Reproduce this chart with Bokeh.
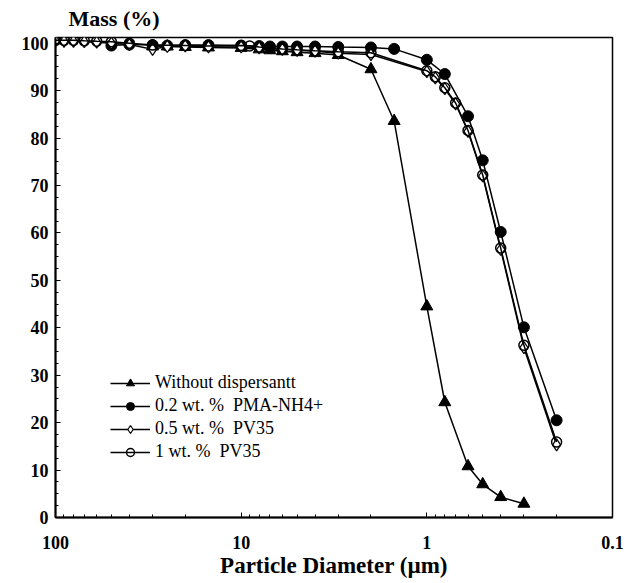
from bokeh.plotting import figure
from bokeh.models import Range1d, FixedTicker, CustomJSTickFormatter, Legend, LegendItem
from bokeh.embed import file_html
from bokeh.resources import INLINE

# ---- data ----
tri_x = [30, 25, 20, 15, 10, 8, 7, 6, 5, 4, 3, 2, 1.5, 1, 0.8, 0.6, 0.5, 0.4, 0.3]
tri_y = [99.3, 99.3, 99.2, 99.1, 99.0, 98.7, 98.5, 98.3, 98.1, 97.9, 97.5, 94.5, 83.6,
         44.5, 24.3, 10.8, 7.0, 4.3, 2.9]

pma_x = [50, 40, 30, 25, 20, 15, 10, 8, 7, 6, 5, 4, 3, 2, 1.5, 1, 0.8, 0.6, 0.5, 0.4, 0.3, 0.2]
pma_y = [99.5, 99.7, 99.6, 99.5, 99.6, 99.6, 99.5, 99.4, 99.3, 99.3, 99.3, 99.3, 99.2,
         99.1, 98.8, 96.5, 93.5, 84.6, 75.3, 60.2, 40.1, 20.5]

pv05_x = [100, 90, 80, 70, 60, 50, 40, 30, 25, 20, 15, 10, 8, 6, 5, 4, 3, 2, 1, 0.9,
          0.8, 0.7, 0.6, 0.5, 0.4, 0.3, 0.2]
pv05_y = [100.5, 100.4, 100.4, 100.3, 100.2, 100.0, 99.7, 98.7, 99.3, 99.4, 99.2, 99.2,
          99.0, 98.7, 98.5, 98.3, 97.9, 97.6, 94.0, 92.7, 90.4, 87.2, 81.4, 72.0, 56.5,
          35.8, 15.3]

pv1_x = [100, 90, 80, 70, 60, 50, 40, 30, 20, 15, 10, 9, 8, 7, 6, 5, 4, 3, 2, 1, 0.9,
         0.8, 0.7, 0.6, 0.5, 0.4, 0.3, 0.2]
pv1_y = [100.6, 100.6, 100.6, 100.5, 100.4, 100.3, 100.0, 99.6, 99.5, 99.4, 99.5, 99.4,
         99.2, 99.0, 98.8, 98.6, 98.4, 98.2, 98.0, 94.2, 92.9, 90.6, 87.4, 81.6, 72.2,
         56.8, 36.3, 15.9]

series_labels = ["Without dispersantt", "0.2 wt. %  PMA-NH4+", "0.5 wt. %  PV35", "1 wt. %  PV35"]
x_ticks = [100, 10, 1, 0.1]
y_ticks = list(range(0, 101, 10))

FONT = "Liberation Serif"

p = figure(width=632, height=583, x_axis_type="log",
           x_range=Range1d(100, 0.1), y_range=Range1d(0, 101.2),
           output_backend="svg", toolbar_location=None,
           min_border_left=55, min_border_right=20, min_border_top=37, min_border_bottom=66)

p.background_fill_color = "white"
p.border_fill_color = "white"
p.xgrid.visible = False
p.ygrid.visible = False
p.outline_line_color = "black"
p.outline_line_width = 1.5

p.title.text = "Mass (%)"
p.title.text_font = FONT
p.title.text_font_style = "bold"
p.title.text_font_size = "22px"
p.title.text_color = "black"
p.title.align = "left"
p.title.offset = 13
p.title.standoff = 9
p.title.vertical_align = "top"

# axes
xa = p.xaxis[0]
xa.ticker = FixedTicker(ticks=x_ticks,
                        minor_ticks=[90, 80, 70, 60, 50, 40, 30, 20, 9, 8, 7, 6, 5, 4, 3, 2,
                                     0.9, 0.8, 0.7, 0.6, 0.5, 0.4, 0.3, 0.2])
xa.formatter = CustomJSTickFormatter(code="return tick >= 1 ? tick.toFixed(0) : tick.toString();")
xa.axis_label = "Particle Diameter (\u00b5m)"
xa.axis_label_text_font = FONT
xa.axis_label_text_font_style = "bold"
xa.axis_label_text_font_size = "23px"
xa.axis_label_text_color = "black"
xa.axis_label_standoff = 1
xa.major_label_text_font = FONT
xa.major_label_text_font_style = "bold"
xa.major_label_text_font_size = "18px"
xa.major_label_text_color = "black"
xa.major_label_standoff = 18
xa.major_tick_in = 5
xa.major_tick_out = 0
xa.minor_tick_in = 3
xa.minor_tick_out = 0
xa.axis_line_width = 2
xa.axis_line_color = "black"
xa.major_tick_line_color = "black"
xa.minor_tick_line_color = "black"

ya = p.yaxis[0]
ya.ticker = FixedTicker(ticks=y_ticks, minor_ticks=[v / 2 for v in range(0, 201, 5)])
ya.major_label_text_font = FONT
ya.major_label_text_font_style = "bold"
ya.major_label_text_font_size = "18px"
ya.major_label_text_color = "black"
ya.major_label_standoff = 7
ya.major_tick_in = 5
ya.major_tick_out = 0
ya.minor_tick_in = 3
ya.minor_tick_out = 0
ya.axis_line_width = 2
ya.axis_line_color = "black"
ya.major_tick_line_color = "black"
ya.minor_tick_line_color = "black"

LW = 1.5
l1 = p.line(tri_x, tri_y, line_color="black", line_width=LW)
s1 = p.scatter(tri_x, tri_y, marker="triangle", size=12, fill_color="black", line_color="black")

l2 = p.line(pma_x, pma_y, line_color="black", line_width=LW)
s2 = p.scatter(pma_x, pma_y, marker="circle", size=11, fill_color="black", line_color="black")

l3 = p.line(pv05_x, pv05_y, line_color="black", line_width=LW)
s3 = p.scatter(pv05_x, pv05_y, marker="diamond", size=12, fill_color="white",
               line_color="black", line_width=1.2)

l4 = p.line(pv1_x, pv1_y, line_color="black", line_width=LW)
s4 = p.scatter(pv1_x, pv1_y, marker="circle", size=10, fill_color="white",
               line_color="black", line_width=1.5, fill_alpha=0.0)

legend = Legend(items=[
    LegendItem(label=series_labels[0], renderers=[l1, s1]),
    LegendItem(label=series_labels[1], renderers=[l2, s2]),
    LegendItem(label=series_labels[2], renderers=[l3, s3]),
    LegendItem(label=series_labels[3], renderers=[l4, s4]),
], location=(55, 55))
legend.label_text_font = FONT
legend.label_text_font_size = "18px"
legend.label_text_color = "black"
legend.glyph_width = 40
legend.glyph_height = 20
legend.label_height = 20
legend.label_standoff = 5
legend.spacing = 2
legend.padding = 0
legend.margin = 0
legend.border_line_alpha = 0
legend.background_fill_alpha = 0
p.add_layout(legend, "center")

open("out.html", "w").write(file_html(p, INLINE))
